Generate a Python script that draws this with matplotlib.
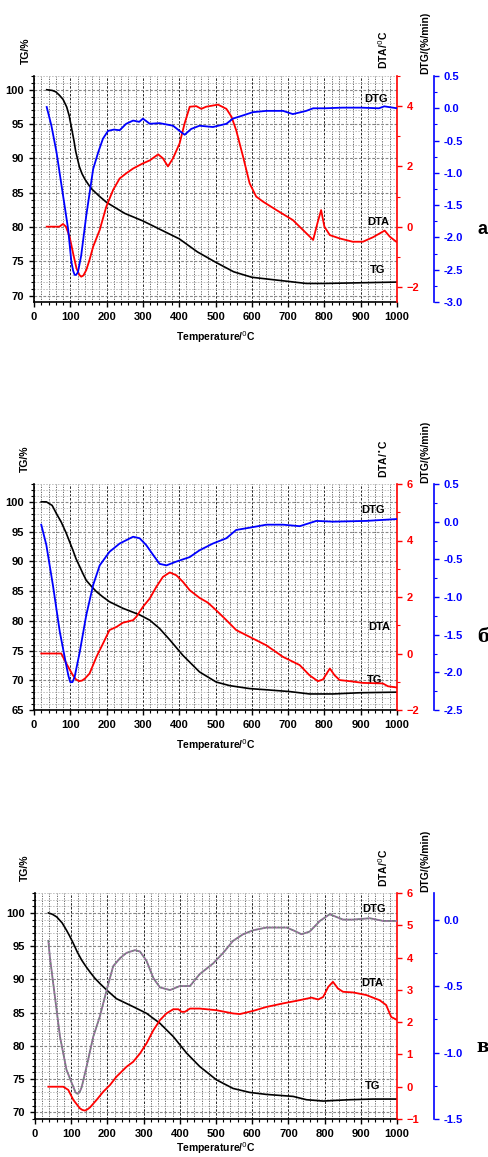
import matplotlib
matplotlib.use("Agg")
import matplotlib.pyplot as plt
from matplotlib.ticker import MultipleLocator
import numpy as np

# ---------------- Panel a data ----------------
a_tg_T = [35, 50, 60, 70, 80, 90, 97, 105, 110, 115, 120, 125, 132, 140, 150, 160, 180, 200, 250, 300, 350, 400, 450, 500, 550, 600, 650, 700, 750, 800, 900, 1000]
a_tg = [100, 99.9, 99.7, 99.2, 98.6, 97.5, 96.2, 94.0, 92.6, 91.0, 89.9, 88.8, 87.8, 87.0, 86.2, 85.5, 84.5, 83.6, 82.0, 80.9, 79.6, 78.3, 76.4, 74.9, 73.5, 72.7, 72.4, 72.1, 71.8, 71.8, 71.9, 72.0]

a_dta_T = [35, 70, 80, 88, 98, 108, 117, 125, 130, 136, 144, 153, 163, 181, 199, 218, 236, 254, 273, 300, 319, 342, 355, 369, 383, 401, 415, 429, 447, 461, 474, 507, 530, 544, 557, 576, 594, 612, 631, 668, 713, 741, 769, 782, 791, 800, 815, 842, 878, 906, 934, 966, 980, 998]
a_dta = [0, 0, 0.09, 0.0, -0.33, -0.9, -1.38, -1.6, -1.66, -1.62, -1.44, -1.1, -0.66, -0.11, 0.66, 1.22, 1.6, 1.77, 1.93, 2.1, 2.2, 2.4, 2.27, 2.0, 2.27, 2.76, 3.43, 3.98, 4.0, 3.91, 3.98, 4.05, 3.91, 3.65, 3.2, 2.32, 1.44, 1.0, 0.83, 0.55, 0.22, -0.11, -0.44, 0.17, 0.55, 0.0, -0.28, -0.39, -0.5, -0.5, -0.35, -0.13, -0.33, -0.5]

a_dtg_T = [35, 48, 62, 80, 94, 103, 108, 112, 116, 121, 130, 144, 163, 177, 190, 204, 220, 236, 254, 273, 290, 300, 319, 346, 383, 401, 415, 433, 456, 493, 530, 548, 576, 603, 640, 686, 713, 750, 769, 800, 850, 900, 950, 965, 1000]
a_dtg = [0.02, -0.27, -0.68, -1.35, -1.87, -2.38, -2.52, -2.58, -2.58, -2.54, -2.28, -1.66, -0.94, -0.68, -0.47, -0.35, -0.33, -0.34, -0.24, -0.19, -0.21, -0.16, -0.24, -0.23, -0.27, -0.35, -0.41, -0.32, -0.27, -0.29, -0.24, -0.16, -0.11, -0.06, -0.04, -0.04, -0.09, -0.04, 0.0, 0.0, 0.01, 0.01, 0.0, 0.03, 0.0]

# ---------------- Panel б data ----------------
b_tg_T = [20, 34, 50, 62, 75, 89, 98, 107, 116, 126, 135, 144, 158, 172, 190, 208, 245, 291, 319, 346, 374, 410, 456, 502, 539, 594, 640, 704, 759, 824, 897, 1000]
b_tg = [100, 100, 99.4, 98.0, 96.6, 94.7, 93.3, 91.9, 90.4, 89.1, 87.9, 86.8, 85.8, 84.9, 84.0, 83.2, 82.1, 81.0, 80.1, 78.7, 76.8, 74.2, 71.4, 69.7, 69.1, 68.6, 68.4, 68.1, 67.7, 67.7, 67.9, 68.0]

b_dta_T = [20, 75, 89, 107, 116, 124, 132, 140, 153, 172, 190, 208, 227, 245, 273, 282, 300, 319, 337, 355, 374, 392, 410, 429, 456, 479, 502, 530, 557, 603, 640, 686, 732, 759, 782, 796, 815, 828, 842, 870, 906, 961, 975, 998]
b_dta = [0, 0, -0.35, -0.77, -0.92, -0.98, -0.96, -0.89, -0.71, -0.12, 0.35, 0.83, 0.94, 1.09, 1.18, 1.3, 1.65, 1.95, 2.36, 2.71, 2.87, 2.77, 2.54, 2.24, 1.97, 1.8, 1.53, 1.18, 0.83, 0.53, 0.29, -0.12, -0.41, -0.77, -0.98, -0.92, -0.53, -0.77, -0.94, -0.98, -1.04, -1.06, -1.16, -1.2]

b_dtg_T = [20, 34, 52, 71, 89, 95, 100, 106, 112, 126, 144, 163, 181, 208, 236, 273, 291, 309, 328, 346, 365, 392, 429, 456, 493, 530, 557, 594, 640, 686, 732, 778, 824, 915, 1000]
b_dtg = [-0.04, -0.31, -0.84, -1.46, -1.91, -2.05, -2.13, -2.13, -2.06, -1.73, -1.24, -0.84, -0.58, -0.4, -0.29, -0.2, -0.22, -0.31, -0.44, -0.56, -0.58, -0.53, -0.47, -0.38, -0.29, -0.22, -0.11, -0.08, -0.04, -0.04, -0.06, 0.01, 0.0, 0.01, 0.035]

# ---------------- Panel в data ----------------
c_tg_T = [37, 48, 60, 75, 87, 96, 106, 117, 129, 140, 152, 165, 179, 198, 225, 271, 308, 345, 382, 419, 455, 501, 547, 593, 639, 713, 750, 796, 869, 934, 1000]
c_tg = [100, 99.8, 99.4, 98.5, 97.4, 96.5, 95.4, 94.1, 92.9, 92.0, 91.1, 90.2, 89.4, 88.4, 87.1, 85.9, 84.9, 83.4, 81.4, 78.9, 76.9, 74.9, 73.6, 73.0, 72.7, 72.4, 71.9, 71.7, 71.9, 72.0, 72.0]

c_dta_T = [37, 78, 92, 106, 124, 131, 138, 145, 152, 170, 189, 207, 225, 253, 271, 290, 308, 327, 345, 363, 382, 396, 405, 414, 428, 455, 501, 547, 566, 603, 639, 685, 731, 764, 782, 796, 810, 823, 837, 851, 879, 915, 952, 970, 984, 998]
c_dta = [0, 0, -0.1, -0.41, -0.67, -0.72, -0.74, -0.7, -0.64, -0.41, -0.15, 0.05, 0.31, 0.62, 0.77, 1.03, 1.34, 1.75, 2.06, 2.27, 2.4, 2.4, 2.32, 2.32, 2.42, 2.42, 2.37, 2.27, 2.25, 2.35, 2.47, 2.58, 2.68, 2.76, 2.7, 2.78, 3.09, 3.25, 3.04, 2.94, 2.92, 2.84, 2.68, 2.53, 2.16, 2.08]

c_dtg_T = [37, 41, 55, 69, 87, 106, 112, 117, 123, 129, 143, 161, 179, 198, 216, 235, 253, 276, 290, 308, 327, 345, 373, 400, 428, 455, 492, 520, 547, 575, 603, 639, 695, 713, 736, 759, 787, 814, 823, 851, 879, 925, 962, 1000]
c_dtg = [-0.16, -0.28, -0.58, -0.88, -1.13, -1.26, -1.3, -1.31, -1.3, -1.26, -1.1, -0.88, -0.73, -0.53, -0.35, -0.29, -0.25, -0.23, -0.24, -0.31, -0.44, -0.51, -0.53, -0.5, -0.5, -0.41, -0.33, -0.25, -0.16, -0.11, -0.08, -0.06, -0.06, -0.08, -0.11, -0.09, -0.01, 0.04, 0.03, 0.0, 0.0, 0.01, -0.01, -0.01]

W, H = 489, 1157
fig = plt.figure(figsize=(W / 100, H / 100), dpi=100)
plt.rcParams['font.family'] = ['Liberation Sans', 'DejaVu Sans']

TICKFS = 8
LABFS = 7.5


def fx(px):
    return px / W


def fy(py):
    return 1 - py / H


panels = [
    dict(left=34, right=397, top=76, bottom=302,
         tg=(a_tg_T, a_tg), dta=(a_dta_T, a_dta), dtg=(a_dtg_T, a_dtg),
         tg_lim=(69.1, 102.0), tg_ticks=[70, 75, 80, 85, 90, 95, 100],
         dta_lim=(-2.5, 5.0), dta_major=2, dta_minor=1,
         dtg_lim=(-3.0, 0.5), dtg_major=0.5, dtg_minor=0.25,
         dtg_color='blue',
         ann=[("DTG", 943, 98.6), ("DTA", 948, 80.8), ("TG", 948, 73.7)],
         tg_lab=(26, 51), dta_lab=(383, 50), dtg_lab=(425, 43), xlab=(216, 337),
         dta_text="DTA/$^0$C",
         letter=("а", 483, 229, ['Liberation Sans', 'DejaVu Sans'])),
    dict(left=34, right=397, top=484, bottom=710,
         tg=(b_tg_T, b_tg), dta=(b_dta_T, b_dta), dtg=(b_dtg_T, b_dtg),
         tg_lim=(65.0, 103.0), tg_ticks=[65, 70, 75, 80, 85, 90, 95, 100],
         dta_lim=(-2.0, 6.0), dta_major=2, dta_minor=1,
         dtg_lim=(-2.5, 0.5), dtg_major=0.5, dtg_minor=0.25,
         dtg_color='blue',
         ann=[("DTG", 934, 98.6), ("DTA", 952, 79.0), ("TG", 938, 70.0)],
         tg_lab=(25, 459), dta_lab=(383, 459), dtg_lab=(425, 452), xlab=(216, 745),
         dta_text="DTA/$^{\\bullet}$C",
         letter=("б", 483, 637, ['DejaVu Serif'])),
    dict(left=35, right=397, top=893, bottom=1119,
         tg=(c_tg_T, c_tg), dta=(c_dta_T, c_dta), dtg=(c_dtg_T, c_dtg),
         tg_lim=(69.0, 103.0), tg_ticks=[70, 75, 80, 85, 90, 95, 100],
         dta_lim=(-1.0, 6.0), dta_major=1, dta_minor=1,
         dtg_lim=(-1.5, 0.2), dtg_major=0.5, dtg_minor=0.25,
         dtg_color='#7d6d8c',
         ann=[("DTG", 936, 100.65), ("DTA", 932, 89.4), ("TG", 934, 73.9)],
         tg_lab=(25, 868), dta_lab=(383, 868), dtg_lab=(425, 861), xlab=(216, 1148),
         dta_text="DTA/$^0$C",
         letter=("в", 483, 1047, ['DejaVu Serif'])),
]

for p in panels:
    ax = fig.add_axes([fx(p['left']), fy(p['bottom']),
                       fx(p['right'] - p['left']), (p['bottom'] - p['top']) / H])
    ax.set_xlim(0, 1000)
    ax.set_ylim(*p['tg_lim'])
    ax.xaxis.set_major_locator(MultipleLocator(100))
    ax.xaxis.set_minor_locator(MultipleLocator(20))
    ax.set_yticks(p['tg_ticks'])
    ax.yaxis.set_minor_locator(MultipleLocator(1))
    # grid
    ax.grid(which='minor', axis='x', color='#555555', linestyle=(0, (1.5, 1.5)), linewidth=0.6)
    ax.grid(which='major', axis='x', color='#222222', linestyle=(0, (2.5, 1.5)), linewidth=0.7)
    ax.grid(which='minor', axis='y', color='#bbbbbb', linestyle=(0, (2, 1.5)), linewidth=0.6)
    ax.grid(which='major', axis='y', color='#888888', linestyle=(0, (2.5, 1.5)), linewidth=0.8)
    ax.set_axisbelow(True)
    for s in ['top', 'right']:
        ax.spines[s].set_visible(False)
    ax.spines['left'].set_linewidth(1.2)
    ax.spines['bottom'].set_linewidth(1.2)
    ax.tick_params(which='major', length=3.5, width=1.0, labelsize=TICKFS)
    ax.tick_params(which='minor', length=2, width=0.8)
    for lab in ax.get_xticklabels() + ax.get_yticklabels():
        lab.set_fontweight('bold')
    ax.plot(*p['tg'], color='black', linewidth=1.2, zorder=3)
    for (t, x, y) in p['ann']:
        ax.text(x, y, t, fontsize=8, fontweight='bold', ha='center', va='center', zorder=5)

    # DTA axis
    ax2 = ax.twinx()
    ax2.set_ylim(*p['dta_lim'])
    ax2.yaxis.set_major_locator(MultipleLocator(p['dta_major']))
    ax2.yaxis.set_minor_locator(MultipleLocator(p['dta_minor']))
    for s in ['top', 'left', 'bottom']:
        ax2.spines[s].set_visible(False)
    ax2.spines['right'].set_color('red')
    ax2.spines['right'].set_linewidth(1.2)
    ax2.tick_params(axis='y', which='both', colors='red', labelsize=TICKFS)
    ax2.tick_params(which='major', length=3.5, width=1.0)
    ax2.tick_params(which='minor', length=2, width=0.8)
    for lab in ax2.get_yticklabels():
        lab.set_fontweight('bold')
    ax2.plot(*p['dta'], color='red', linewidth=1.3, zorder=3)

    # DTG axis
    ax3 = ax.twinx()
    ax3.set_ylim(*p['dtg_lim'])
    ax3.spines['right'].set_position(('axes', (434 - p['left']) / (p['right'] - p['left'])))
    ax3.yaxis.set_major_locator(MultipleLocator(p['dtg_major']))
    ax3.yaxis.set_minor_locator(MultipleLocator(p['dtg_minor']))
    for s in ['top', 'left', 'bottom']:
        ax3.spines[s].set_visible(False)
    ax3.spines['right'].set_color('blue')
    ax3.spines['right'].set_linewidth(1.2)
    ax3.tick_params(axis='y', which='both', colors='blue', labelsize=TICKFS)
    ax3.tick_params(which='major', length=3.5, width=1.0)
    ax3.tick_params(which='minor', length=2, width=0.8)
    ax3.yaxis.set_major_formatter(matplotlib.ticker.FormatStrFormatter('%.1f'))
    for lab in ax3.get_yticklabels():
        lab.set_fontweight('bold')
    ax3.plot(*p['dtg'], color=p['dtg_color'], linewidth=1.3, zorder=3)
    if p['dtg_color'] != 'blue':
        ax3.plot(*p['dtg'], color='#6aa06a', linewidth=0.8, linestyle=(0, (1, 3)), zorder=4)
        ax3.plot(*p['dtg'], color='#c070b0', linewidth=0.8, linestyle=(2, (1, 3)), zorder=4)

    # labels
    fig.text(fx(p['tg_lab'][0]), fy(p['tg_lab'][1]), "TG/%", rotation=90,
             fontsize=LABFS, fontweight='bold', ha='center', va='center')
    fig.text(fx(p['dta_lab'][0]), fy(p['dta_lab'][1]), p['dta_text'], rotation=90,
             fontsize=LABFS, fontweight='bold', ha='center', va='center')
    fig.text(fx(p['dtg_lab'][0]), fy(p['dtg_lab'][1]), "DTG/(%/min)", rotation=90,
             fontsize=LABFS, fontweight='bold', ha='center', va='center')
    fig.text(fx(p['xlab'][0]), fy(p['xlab'][1]), "Temperature/$^0$C",
             fontsize=LABFS, fontweight='bold', ha='center', va='center')
    lt, lx, ly, lfam = p['letter']
    fig.text(fx(lx), fy(ly), lt, fontsize=13, fontweight='bold', family=lfam,
             ha='center', va='center')

fig.savefig("out.png", dpi=100)
